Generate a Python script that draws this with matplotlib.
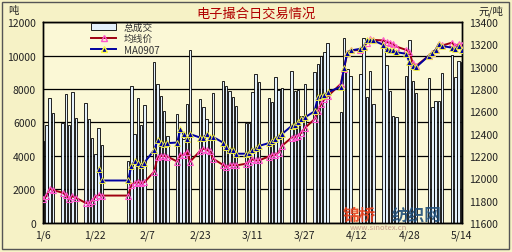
import matplotlib
matplotlib.use("Agg")
import matplotlib.pyplot as plt
from matplotlib.patches import Rectangle, Patch
from matplotlib.lines import Line2D
from datetime import datetime
import numpy as np

plt.rcParams['font.family'] = ['Noto Sans CJK SC', 'DejaVu Sans']

days = ["1/6", "1/7", "1/8", "1/9",
        "1/12", "1/13", "1/14", "1/15", "1/16",
        "1/19", "1/20", "1/21", "1/22", "1/23", "1/24",
        "2/1", "2/2", "2/3", "2/4", "2/5", "2/6",
        "2/9", "2/10", "2/11", "2/12", "2/13",
        "2/16", "2/17", "2/18", "2/19", "2/20",
        "2/23", "2/24", "2/25", "2/26", "2/27",
        "3/2", "3/3", "3/4", "3/5", "3/6",
        "3/9", "3/10", "3/11", "3/12", "3/13",
        "3/16", "3/17", "3/18", "3/19", "3/20",
        "3/23", "3/24", "3/25", "3/26", "3/27",
        "3/30", "3/31", "4/1", "4/2", "4/3",
        "4/7", "4/8", "4/9", "4/10",
        "4/13", "4/14", "4/15", "4/16", "4/17",
        "4/20", "4/21", "4/22", "4/23", "4/24",
        "4/27", "4/28", "4/29", "4/30",
        "5/4", "5/5", "5/6", "5/7", "5/8",
        "5/11", "5/12", "5/13", "5/14"]

volume = [4900, 5850, 7450, 6550,
          5950, 7700, 5850, 7800, 6250,
          7150, 6200, 5100, 4100, 5650, 4650,
          3700, 8150, 5300, 7450, 5850, 7050,
          9600, 8300, 7600, 6700, 5200,
          6500, 5500, 5000, 7100, 10350,
          7400, 6900, 6200, 5200, 7750,
          8500, 8200, 7900, 7500, 7000,
          5950, 5950, 7800, 8900, 8400,
          7450, 7200, 8700, 7950, 8050,
          9100, 7900, 7950, 6400, 8300,
          9000, 9500, 9950, 10200, 10750,
          6600, 11050, 9200, 8800,
          8900, 11050, 7500, 9100, 7100,
          10900, 9450, 7900, 6400, 6350,
          8750, 10900, 8500, 7750,
          8650, 6900, 7300, 7300, 8950,
          10050, 8700, 9700, 9600]

avg_price = [11810, 11840, 11905, 11895,
             11870, 11850, 11810, 11840, 11825,
             11780, 11775, 11800, 11835, 11850, 11845,
             11845, 11940, 11960, 11965, 11955, 11965,
             12060, 12190, 12200, 12200, 12195,
             12150, 12205, 12210, 12235, 12150,
             12245, 12265, 12255, 12240, 12175,
             12120, 12100, 12115, 12120, 12115,
             12130, 12150, 12170, 12160, 12160,
             12195, 12205, 12210, 12230, 12290,
             12365, 12370, 12380, 12410, 12450,
             12530, 12605, 12665, 12710, 12735,
             12845, 12980, 13125, 13145,
             13150, 13175, 13215, 13245, 13240,
             13235, 13220, 13215, 13200, 13180,
             13150, 13130, 13030, 13005,
             13100, 13125, 13150, 13205, 13190,
             13215, 13185, 13200, 13190]

ma0907 = [np.nan, np.nan, np.nan, np.nan,
          np.nan, np.nan, np.nan, np.nan, np.nan,
          np.nan, np.nan, np.nan, np.nan, 12085, 11980,
          11980, 12110, 12155, 12135, 12115, 12140,
          12255, 12340, 12320, 12310, 12315,
          12320, 12440, 12395, 12350, 12395,
          12365, 12365, 12395, 12370, 12370,
          12320, 12280, 12255, 12255, 12220,
          12220, 12230, 12250, 12270, 12290,
          12315, 12335, 12350, 12380, 12395,
          12470, 12480, 12500, 12530, 12545,
          12600, 12725, 12740, 12745, 12770,
          12820, 12990, 13125, 13145,
          13160, 13180, 13235, 13240, 13235,
          13195, 13160, 13150, 13145, 13130,
          13115, 13040, 13005, 12995,
          13100, 13125, 13150, 13205, 13185,
          13170, 13160, 13185, 13150]

tick_days = ["1/6", "1/22", "2/7", "2/23", "3/11", "3/27", "4/12", "4/28", "5/14"]


def to_date(s):
    m, d = s.split("/")
    return datetime(2009, int(m), int(d))


dates = [to_date(s) for s in days]

fig = plt.figure(figsize=(5.12, 2.53), dpi=100, facecolor="#F6F2C6")
ax = fig.add_axes([0.084, 0.115, 0.818, 0.794])
ax.set_facecolor("#FBF8D6")

ax.bar(dates, volume, width=0.75, color="#E4F1FB", edgecolor="black",
       linewidth=0.6, zorder=2)
ax.set_ylim(0, 12000)
ax.set_yticks(range(0, 12001, 2000))
ax.yaxis.grid(True, color="black", linewidth=0.9, zorder=0)
ax.set_axisbelow(True)
ax.set_xlim(to_date("1/6"), to_date("5/14"))
ax.set_xticks([to_date(s) for s in tick_days])
ax.set_xticklabels(tick_days)
ax.tick_params(length=0, labelsize=7.5, colors="#222222", pad=5)

ax2 = ax.twinx()
ax2.plot(dates, avg_price, color="#A00010", linewidth=1.4, marker="^",
         markersize=4, markerfacecolor="none", markeredgecolor="#FF55CC",
         markeredgewidth=0.8, zorder=3)
ax2.plot(dates, ma0907, color="#0000A0", linewidth=1.4, marker="^",
         markersize=4, markerfacecolor="#0000A0", markeredgecolor="#FFFF40",
         markeredgewidth=0.6, zorder=4)
ax2.set_ylim(11600, 13400)
ax2.set_yticks(range(11600, 13401, 200))
ax2.tick_params(length=0, labelsize=7.5, colors="#222222", pad=5)

for a in (ax, ax2):
    for sp in a.spines.values():
        sp.set_color("black")
        sp.set_linewidth(1.0)

handles = [Patch(facecolor="#E4F1FB", edgecolor="black", linewidth=0.6),
           Line2D([], [], color="#A00010", linewidth=1.4, marker="^", markersize=4,
                  markerfacecolor="none", markeredgecolor="#FF55CC"),
           Line2D([], [], color="#0000A0", linewidth=1.4, marker="^", markersize=4,
                  markerfacecolor="#0000A0", markeredgecolor="#FFFF40")]
leg = ax2.legend(handles, ["总成交", "均线价", "MA0907"], loc="upper left",
                 bbox_to_anchor=(0.105, 1.02), frameon=False, fontsize=7,
                 handlelength=2.6, labelspacing=0.15, borderaxespad=0)
for t in leg.get_texts():
    t.set_color("#333333")

fig.text(0.5, 0.945, "电子撮合日交易情况", color="#B00000", fontsize=9.5,
         ha="center", va="center")
fig.text(0.016, 0.955, "吨", fontsize=7.5, color="#222222", ha="left", va="center")
fig.text(0.935, 0.955, "元/吨", fontsize=7.5, color="#222222", ha="left", va="center")

# watermark
fig.text(0.67, 0.148, "锦桥", color="#E8401C", fontsize=12, fontweight="bold",
         ha="left", va="center", alpha=0.9)
fig.text(0.765, 0.148, "纺织网", color="#1F4E79", fontsize=12, fontweight="bold",
         ha="left", va="center", alpha=0.9)
fig.text(0.74, 0.098, "www.sinotex.cn", color="#AA6666", fontsize=5.5,
         ha="center", va="center", alpha=0.6)

fig.patches.append(Rectangle((0.004, 0.012), 0.99, 0.976, transform=fig.transFigure,
                             fill=False, edgecolor="#555555", linewidth=1.0))

fig.savefig("out.png", dpi=100, facecolor=fig.get_facecolor())
